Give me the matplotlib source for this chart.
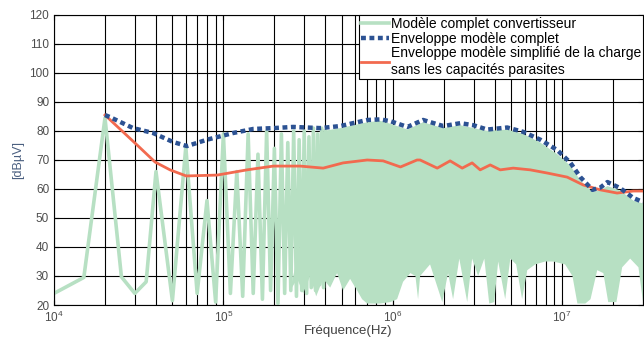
import numpy as np
import matplotlib.pyplot as plt

plt.rcParams['font.family'] = ['Liberation Sans', 'DejaVu Sans']

# green spectrum, low frequency part (individual harmonics)
harm_f = [1e4, 1.5e4, 2e4, 2.5e4, 3e4, 3.5e4, 4e4, 5e4, 6e4, 7e4, 8e4, 9e4,
          1e5, 1.1e5, 1.2e5, 1.3e5, 1.4e5, 1.5e5, 1.6e5, 1.7e5, 1.8e5, 1.9e5,
          2e5, 2.1e5, 2.2e5, 2.3e5, 2.4e5, 2.5e5, 2.6e5, 2.7e5, 2.8e5, 2.9e5,
          3e5, 3.1e5, 3.2e5, 3.3e5, 3.4e5, 3.5e5, 3.6e5, 3.7e5, 3.8e5, 3.9e5, 4e5]
harm_db = [24, 29.5, 84.5, 29.7, 24, 28, 66, 21.5, 74.5, 24, 56, 21,
           79, 24, 66, 23, 79, 24, 72, 22, 80, 25,
           74, 20.5, 79, 24, 76, 25, 80, 23, 77, 25,
           80, 24, 78, 26, 81, 25, 79, 27, 81, 26, 80]

# green spectrum, dense part: upper edge and jagged lower edge
top_f = [3.9e5, 4.9e5, 7.06e5, 8.43e5, 9.66e5, 1.22e6, 1.51e6, 1.99e6, 2.5e6,
         2.99e6, 3.61e6, 4.74e6, 5.89e6, 7.43e6, 9.36e6, 1.12e7, 1.28e7,
         1.51e7, 1.68e7, 1.85e7, 2.2e7, 2.63e7, 3e7]
top_db = [80, 81, 83, 83.5, 82.5, 80.5, 83, 81, 82,
          81, 80, 80.5, 79, 76, 72, 68, 63,
          59, 59.5, 61, 59.5, 56, 55]
bot_f = [2.48e5, 2.73e5, 2.96e5, 3.25e5, 3.53e5, 3.88e5, 4.27e5, 4.69e5, 5.09e5,
         5.6e5, 6.16e5, 6.59e5, 7.06e5, 8.43e5, 9.66e5, 1.06e6, 1.15e6, 1.27e6,
         1.36e6, 1.41e6, 1.45e6, 1.66e6, 1.96e6, 2.12e6, 2.27e6, 2.47e6, 2.75e6,
         2.94e6, 3.19e6, 3.47e6, 3.71e6, 3.97e6, 4.19e6, 4.61e6, 4.94e6, 5.35e6,
         5.8e6, 6.22e6, 6.93e6, 7.94e6, 8.85e6, 1.04e7, 1.15e7, 1.23e7, 1.37e7,
         1.47e7, 1.61e7, 1.75e7, 1.87e7, 2.09e7, 2.26e7, 2.52e7, 2.82e7, 3e7]
bot_db = [25, 29, 24, 30, 23, 29, 26, 31, 25,
          29, 25, 22, 20.5, 20.5, 21, 22, 28, 31,
          30, 22, 30, 34, 21, 31, 22, 36, 21,
          36, 30, 36, 20.5, 21, 35, 22, 36, 34,
          22, 32, 34, 35, 35, 34, 30, 20.5, 20.5,
          22, 32, 31, 21, 21, 33, 36, 33, 21]

# envelope of the complete model (blue dots)
env_f = [2e4, 2.14e4, 2.93e4, 3.85e4, 5.05e4, 6.1e4, 8e4, 1.14e5, 1.5e5, 1.97e5,
         2.58e5, 3.73e5, 4.89e5, 7.06e5, 8.43e5, 9.66e5, 1.22e6, 1.51e6, 1.99e6,
         2.5e6, 2.99e6, 3.61e6, 4.74e6, 5.89e6, 7.43e6, 9.36e6, 1.12e7, 1.28e7,
         1.51e7, 1.68e7, 1.85e7, 2.2e7, 2.63e7, 3e7]
env_db = [85.5, 84.8, 81, 79.3, 76.2, 74.8, 77, 79.3, 80.7, 81,
          81.4, 81, 81.7, 83.8, 84, 83.4, 81.4, 83.8, 81.7,
          82.7, 82, 80.5, 81.2, 79.7, 77, 73.4, 69, 64.1,
          59.7, 60.5, 62.4, 60.3, 56.9, 55.5]

# envelope of the simplified model (red)
simp_f = [2e4, 3.09e4, 3.95e4, 4.84e4, 6.03e4, 9.2e4, 1.26e5, 1.38e5, 1.97e5,
          2.84e5, 3.88e5, 5.09e5, 7.06e5, 8.77e5, 1.11e6, 1.39e6, 1.45e6, 1.83e6,
          2.18e6, 2.57e6, 2.94e6, 3.28e6, 3.76e6, 4.31e6, 5.14e6, 6.48e6, 8.17e6,
          1.07e7, 1.33e7, 1.68e7, 2.11e7, 2.63e7, 3e7]
simp_db = [85.5, 75.2, 69.3, 66.6, 64.5, 64.8, 66.2, 66.6, 67.9,
           67.9, 67.2, 69, 70, 69.7, 67.6, 70, 70, 67.2,
           69.7, 67.2, 69, 66.6, 68.3, 66.6, 67.2, 66.6, 65.5,
           64.1, 61.4, 59.7, 58.6, 59.3, 59.3]

green = '#b7e0c3'
fig = plt.figure(figsize=(6.44, 3.38), dpi=100)
ax = fig.add_axes([54 / 644, 1 - 305 / 338, 589 / 644, 290 / 338])

ax.plot(harm_f, harm_db, color=green, lw=2.6, zorder=2,
        label='Modèle complet convertisseur')
ax.fill(np.r_[top_f, bot_f[::-1]], np.r_[top_db, bot_db[::-1]],
        color=green, lw=0, zorder=2)
ax.plot(env_f, env_db, color='#2c5293', lw=3.2, ls=(0, (1.1, 0.8)),
        zorder=4, label='Enveloppe modèle complet')
ax.plot(simp_f, simp_db, color='#f26a4f', lw=2, zorder=3,
        label='Enveloppe modèle simplifié de la charge\nsans les capacités parasites')

ax.set_xscale('log')
ax.set_xlim(1e4, 3e7)
ax.set_ylim(20, 120)
ax.set_yticks(range(20, 121, 10))
ax.grid(True, which='both', color='black', lw=0.8)
ax.set_axisbelow(True)
ax.tick_params(which='both', direction='in', top=True, right=True,
               labelsize=8.5, labelcolor='#4d4d4d')
ax.set_xlabel('Fréquence(Hz)', fontsize=9.5, color='#404040', labelpad=0)
ax.set_ylabel('[dBµV]', fontsize=9, color='#4a5f80', labelpad=4)

leg = ax.legend(loc='upper right', fontsize=10, borderaxespad=0,
                handlelength=2.0, handletextpad=0.15, borderpad=0.15,
                labelspacing=0.05, fancybox=False, framealpha=1)
leg.get_frame().set_edgecolor('black')
leg.get_frame().set_linewidth(0.8)

fig.savefig('out.png', dpi=100)
